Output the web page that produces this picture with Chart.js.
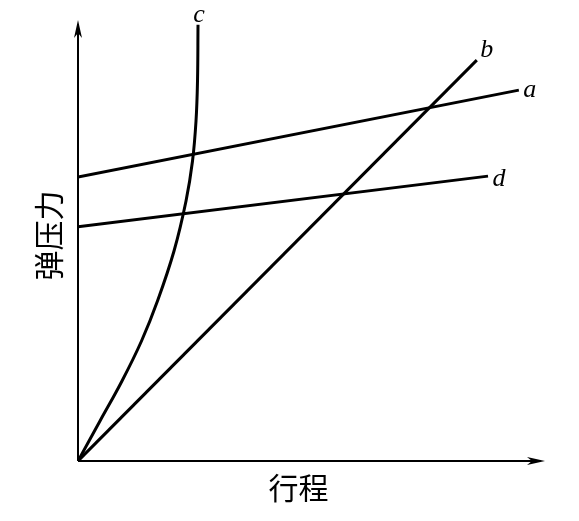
<!DOCTYPE html>
<html>
<head>
<meta charset="utf-8">
<script src="https://cdn.jsdelivr.net/npm/chart.js@4"></script>
<style>
html,body{margin:0;padding:0;background:#fff;}
#wrap{width:579px;height:521px;}
</style>
</head>
<body>
<div id="wrap"><canvas id="c" width="579" height="521"></canvas></div>
<script>
// Data (x: 行程, y: 弹压力), arbitrary units 0..100
const lineA = [{x:0, y:64.4}, {x:94.4, y:84.1}];
const lineD = [{x:0, y:53.1}, {x:87.8, y:64.6}];
const lineB = [{x:0, y:0}, {x:85.4, y:90.9}];
const curveC = [
  {x:0, y:0}, {x:4.71, y:9.07}, {x:9.42, y:18.14}, {x:13.6, y:27.21}, {x:17.02, y:36.28},
  {x:20.56, y:47.62}, {x:23.13, y:58.96}, {x:24.52, y:68.03}, {x:25.27, y:77.1},
  {x:25.59, y:86.17}, {x:25.7, y:98.9}
];
const seriesNames = ['a', 'd', 'b', 'c'];
const xTitle = '行程';
const yTitle = '弹压力';

const ds = (data, curved) => ({
  data, showLine: true, borderColor: '#000', borderWidth: 3, pointRadius: 0,
  tension: curved ? 0.4 : 0,
  fill: false, borderCapStyle: 'butt'
});

const decor = {
  id: 'decor',
  afterDatasetsDraw(chart) {
    const {ctx, scales: {x, y}} = chart;
    const x0 = x.getPixelForValue(0), y0 = y.getPixelForValue(0);
    const xe = x.getPixelForValue(100), ye = y.getPixelForValue(100);
    ctx.save();
    ctx.strokeStyle = '#000'; ctx.fillStyle = '#000'; ctx.lineWidth = 2;
    ctx.beginPath(); ctx.moveTo(x0, y0); ctx.lineTo(xe - 4, y0); ctx.stroke();
    ctx.beginPath(); ctx.moveTo(x0, y0); ctx.lineTo(x0, ye + 4); ctx.stroke();
    // arrowheads
    ctx.beginPath(); ctx.moveTo(xe, y0); ctx.lineTo(xe - 18, y0 - 4); ctx.lineTo(xe - 13, y0); ctx.lineTo(xe - 18, y0 + 4); ctx.closePath(); ctx.fill();
    ctx.beginPath(); ctx.moveTo(x0, ye); ctx.lineTo(x0 - 4, ye + 18); ctx.lineTo(x0, ye + 13); ctx.lineTo(x0 + 4, ye + 18); ctx.closePath(); ctx.fill();
    // series labels
    ctx.font = 'italic 26px "Liberation Serif", "DejaVu Serif", serif';
    ctx.textAlign = 'center'; ctx.textBaseline = 'middle';
    const ends = [lineA[lineA.length-1], lineD[lineD.length-1], lineB[lineB.length-1], curveC[curveC.length-1]];
    const offs = [[11, 0], [11, 3], [10, -10], [1, -10]];
    ends.forEach((p, i) => {
      ctx.fillText(seriesNames[i], x.getPixelForValue(p.x) + offs[i][0], y.getPixelForValue(p.y) + offs[i][1]);
    });
    // axis titles
    ctx.font = '30px "Noto Sans CJK SC", sans-serif';
    ctx.fillText(xTitle, (x0 + xe) / 2 - 13, y0 + 27);
    ctx.save();
    ctx.translate(x0 - 29, (y0 + ye) / 2 - 5);
    ctx.rotate(-Math.PI / 2);
    ctx.fillText(yTitle, 0, 0);
    ctx.restore();
    ctx.restore();
  }
};

new Chart(document.getElementById('c'), {
  type: 'scatter',
  data: { datasets: [ds(lineA, false), ds(lineD, false), ds(lineB, false), ds(curveC, true)] },
  options: {
    responsive: false, animation: false,
    layout: { padding: { left: 78, right: 34, top: 20, bottom: 60 } },
    plugins: { legend: { display: false }, tooltip: { enabled: false } },
    scales: {
      x: { type: 'linear', min: 0, max: 100, display: false },
      y: { type: 'linear', min: 0, max: 100, display: false }
    }
  },
  plugins: [decor]
});
</script>
</body>
</html>
